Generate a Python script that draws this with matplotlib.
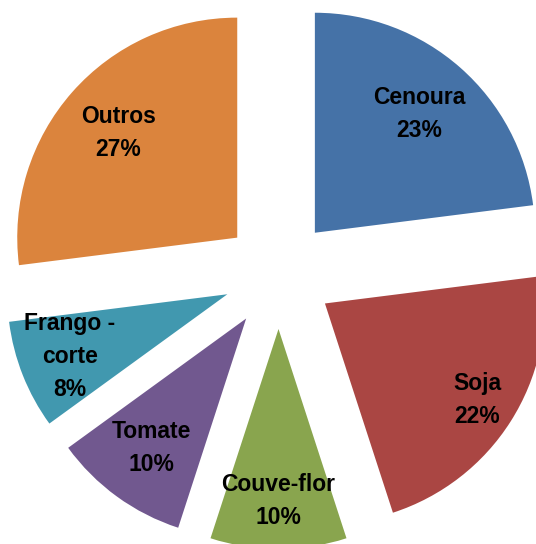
import matplotlib.pyplot as plt
import numpy as np

# data
categories = ["Cenoura", "Soja", "Couve-flor", "Tomate", "Frango -\ncorte", "Outros"]
shares = [23, 22, 10, 10, 8, 27]
colors = ["#4572A7", "#AA4643", "#89A54E", "#71588F", "#4198AF", "#DB843D"]

# label distance from the (exploded) wedge centre, per slice
label_r = [0.72, 0.82, 0.78, 0.73, 0.77, 0.72]

fig = plt.figure(figsize=(5.36, 5.44), dpi=100)
ax = fig.add_axes([0, 0, 1, 1])

wedges, texts = ax.pie(shares, colors=colors, startangle=90, counterclock=False,
                       explode=[0.25] * len(shares), radius=1.0,
                       wedgeprops=dict(linewidth=0))

# labels: name + percent, placed along the wedge bisector
total = sum(shares)
for w, name, val, r in zip(wedges, categories, shares, label_r):
    ang = np.deg2rad((w.theta1 + w.theta2) / 2)
    cx, cy = w.center
    ax.text(cx + r * np.cos(ang), cy + r * np.sin(ang),
            "%s\n%d%%" % (name, round(val * 100 / total)),
            ha="center", va="center", fontsize=16.5, fontweight="bold",
            family="Liberation Sans", linespacing=1.55, color="black")

# pie centre sits at pixel (278.5, 274), radius 220 px
ax.set_xlim(-278.5 / 220, (536 - 278.5) / 220)
ax.set_ylim(-(544 - 274) / 220, 274 / 220)
ax.set_aspect("auto")
ax.axis("off")

fig.savefig("out.png", dpi=100, facecolor="white")
